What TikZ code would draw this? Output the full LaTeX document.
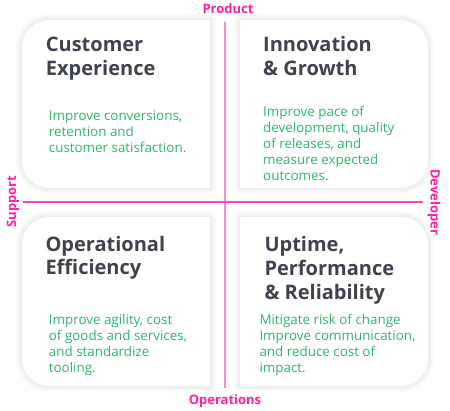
\documentclass[tikz,border=0pt]{standalone}
\usepackage{fontspec}
\setmainfont{Open Sans}
\usetikzlibrary{shadows.blur}
\definecolor{titlegray}{HTML}{40434F}
\definecolor{bodygreen}{HTML}{2DB56E}
\definecolor{axismag}{HTML}{FF1FA5}
\definecolor{axishline}{HTML}{FF45B4}
\definecolor{axisvline}{HTML}{FF8ACB}
% text blocks are hung from the first line's strut top (0.7 of the line spacing above its baseline)
\tikzset{
  card/.style={fill=white, draw=none,
    blur shadow={shadow xshift=0pt, shadow yshift=0pt, shadow blur radius=7pt,
      shadow blur steps=10, shadow opacity=16}},
  cardtitle/.style={anchor=north west, inner sep=0pt, align=left, text=titlegray,
    font=\bfseries\fontsize{20}{23.6}\selectfont, yshift=16.52pt},
  cardbody/.style={anchor=north west, inner sep=0pt, align=left, text=bodygreen,
    font=\fontsize{13.4}{16}\selectfont, yshift=11.2pt},
  axislabel/.style={inner sep=0pt, text=axismag, font=\bfseries\fontsize{13}{15}\selectfont},
}
\begin{document}
\begin{tikzpicture}[x=1pt, y=-1pt]
\useasboundingbox (0,0) rectangle (450,410);
\def\r{27}
% quadrant cards: outer corners rounded, inner corners square
\path[card] (210,20) -- (22+\r,20) arc[start angle=270, end angle=180, radius=\r]
  -- (22,188-\r) arc[start angle=180, end angle=90, radius=\r] -- (210,188) -- cycle;
\path[card] (240,20) -- (428-\r,20) arc[start angle=270, end angle=360, radius=\r]
  -- (428,188-\r) arc[start angle=0, end angle=90, radius=\r] -- (240,188) -- cycle;
\path[card] (210,217) -- (22+\r,217) arc[start angle=270, end angle=180, radius=\r]
  -- (22,386-\r) arc[start angle=180, end angle=90, radius=\r] -- (210,386) -- cycle;
\path[card] (240,217) -- (428-\r,217) arc[start angle=270, end angle=360, radius=\r]
  -- (428,386-\r) arc[start angle=0, end angle=90, radius=\r] -- (240,386) -- cycle;

% axis labels
\node[axislabel, anchor=base] (product) at (228,13.3) {Product};
\node[axislabel, anchor=base] (operations) at (225,404) {Operations};
\node[axislabel, rotate=90] (support) at (13,201.5) {Support};
\node[axislabel, rotate=-90] (developer) at (434,202) {Developer};

% axes
\coordinate (vtop) at (225,22);
\coordinate (vbot) at (225,388);
\coordinate (hleft) at (23,202);
\coordinate (hright) at (423,202);
\draw[axisvline, line width=1.6pt] (vtop) -- (vbot);
\draw[axishline, line width=1.2pt] (hleft) -- (hright);

% card texts (positions are first-line baselines)
\node[cardtitle] (t1) at (45.7,51.7) {\strut Customer\\Experience};
\node[cardbody] (b1) at (48.7,120.7) {\strut Improve conversions,\\retention and\\customer satisfaction.};

\node[cardtitle] (t2) at (263,51.7) {\strut Innovation\\\& Growth};
\node[cardbody] (b2) at (263,116.7) {\strut Improve pace of\\development, quality\\of releases, and\\measure expected\\outcomes.};

\node[cardtitle] (t3) at (45.3,251) {\strut Operational\\Efficiency};
\node[cardbody] (b3) at (48.7,324) {\strut Improve agility, cost\\of goods and services,\\and standardize\\tooling.};

\node[cardtitle] (t4) at (264.3,251.7) {\strut Uptime,\\Performance\\\& Reliability};
\node[cardbody] (b4) at (259.3,324) {\strut Mitigate risk of change\\Improve communication,\\and reduce cost of\\impact.};
\end{tikzpicture}
\end{document}
